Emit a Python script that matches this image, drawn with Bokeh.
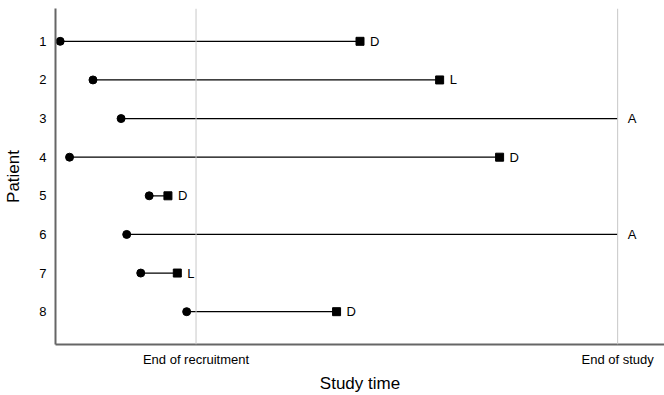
from bokeh.plotting import figure
from bokeh.models import ColumnDataSource, Range1d, FixedTicker, Span
from bokeh.core.properties import value
from bokeh.embed import file_html
from bokeh.resources import INLINE

# Follow-up of each patient (study time in months)
patients = [1, 2, 3, 4, 5, 6, 7, 8]
entry = [0.5, 4.0, 7.0, 1.5, 10.0, 7.6, 9.1, 14.0]
exit_time = [32.5, 41.0, 60.0, 47.4, 12.0, 60.0, 13.0, 30.0]
status = ["D", "L", "A", "D", "D", "A", "L", "D"]

recruitment_end = 15.0
study_end = 60.0
milestone_ticks = [recruitment_end, study_end]
milestone_labels = ["End of recruitment", "End of study"]

FONT = "Liberation Sans"

src = ColumnDataSource(dict(patient=patients, entry=entry, exit=exit_time, status=status))
closed = [i for i, s in enumerate(status) if s != "A"]
end_src = ColumnDataSource(dict(
    patient=[patients[i] for i in closed],
    exit=[exit_time[i] for i in closed],
))

p = figure(width=664, height=395, output_backend="svg", toolbar_location=None,
           x_range=Range1d(0, 65), y_range=Range1d(8.85, 0.15),
           min_border_left=55, min_border_right=0, min_border_top=8, min_border_bottom=51)
p.outline_line_color = None
p.xgrid.visible = False
p.ygrid.visible = False
p.background_fill_color = "white"
p.border_fill_color = "white"

# Milestone reference lines
for t in milestone_ticks:
    p.add_layout(Span(location=t, dimension="height", line_color="#c8c8c8", line_width=1))

# Follow-up segments, entry dots, exit squares and status labels
p.segment(x0="entry", y0="patient", x1="exit", y1="patient", source=src,
          line_color="black", line_width=1.3)
p.scatter(x="entry", y="patient", source=src, marker="circle", size=8,
          fill_color="black", line_color="black")
p.scatter(x="exit", y="patient", source=end_src, marker="square", size=8,
          fill_color="black", line_color="black")
p.text(x="exit", y="patient", text="status", source=src, x_offset=10,
       text_baseline="middle", text_align="left", text_font=value(FONT),
       text_font_size="13px", text_color="black")

# Axes
p.xaxis.ticker = FixedTicker(ticks=milestone_ticks)
p.xaxis.major_label_overrides = {t: l for t, l in zip(milestone_ticks, milestone_labels)}
p.xaxis.minor_tick_line_color = None
p.xaxis.major_tick_out = 0
p.xaxis.major_tick_in = 0
p.xaxis.axis_label = "Study time"
p.xaxis.major_label_standoff = 7
p.xaxis.axis_label_standoff = 4

p.yaxis.ticker = FixedTicker(ticks=patients)
p.yaxis.minor_tick_line_color = None
p.yaxis.major_tick_out = 5
p.yaxis.major_tick_in = 0
p.yaxis.major_label_standoff = 4
p.yaxis.axis_label = "Patient"
p.yaxis.axis_label_standoff = 13

for ax in (p.xaxis, p.yaxis):
    ax.axis_line_color = "#666666"
    ax.axis_line_width = 2
    ax.major_tick_line_color = "#666666" if ax is p.yaxis else None
    ax.major_label_text_font = FONT
    ax.major_label_text_font_size = "13px"
    ax.major_label_text_color = "black"
    ax.axis_label_text_font = FONT
    ax.axis_label_text_font_size = "17px"
    ax.axis_label_text_font_style = "normal"
    ax.axis_label_text_color = "black"

open("out.html", "w").write(file_html(p, INLINE))
